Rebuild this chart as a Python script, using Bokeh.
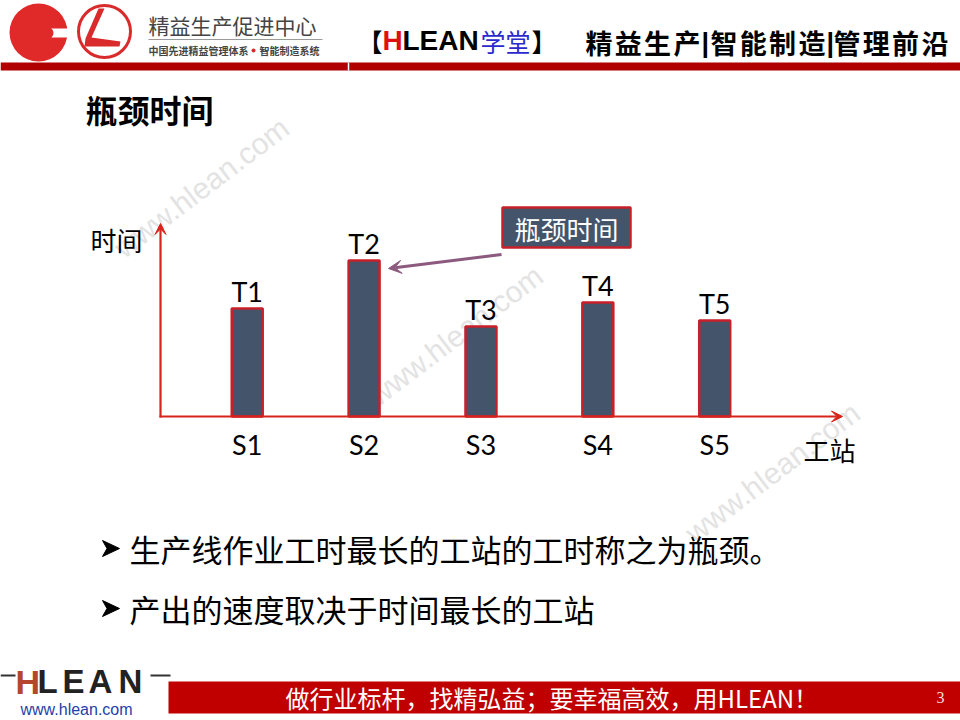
from bokeh.plotting import figure
from bokeh.models import Range1d, Arrow, VeeHead, ColumnDataSource
from bokeh.core.properties import value
from bokeh.embed import file_html
from bokeh.resources import INLINE

# ---- data ----
stations = ["S1", "S2", "S3", "S4", "S5"]
time_labels = ["T1", "T2", "T3", "T4", "T5"]
times = [3.6, 5.2, 3.0, 3.8, 3.2]
station_pos = [1, 2, 3, 4, 5]

title_text = "瓶颈时间"
y_label = "时间"
x_label = "工站"
callout_text = "瓶颈时间"
bullets = ["生产线作业工时最长的工站的工时称之为瓶颈。", "产出的速度取决于时间最长的工站"]
slogan = "做行业标杆，找精弘益；要幸福高效，用HLEAN！"

CJK = "Noto Sans CJK SC"
RED = "#D8231B"
BAR = "#44546A"

src = ColumnDataSource(dict(pos=station_pos, time=times, tl=time_labels, st=stations))

p = figure(width=960, height=720, x_range=Range1d(0, 960), y_range=Range1d(720, 0),
           output_backend="svg", toolbar_location=None, min_border=0,
           x_axis_location=None, y_axis_location=None,
           background_fill_color="white", border_fill_color="white")
p.outline_line_color = None
p.grid.visible = False
p.extra_x_ranges = {"st": Range1d(-1.111, 7.103)}
p.extra_y_ranges = {"t": Range1d(-(720 - 416) / 30.0, 416 / 30.0)}

# ---- watermarks ----
for (wx, wy) in [(201, 187), (455, 335), (772, 472)]:
    p.text(x=[wx], y=[wy], text=["www.hlean.com"], angle=0.65, text_align="center",
           text_baseline="middle", text_font=value("Liberation Sans"), text_font_size="30px",
           text_color="#E3E3E3")

# ---- header ----
p.circle(x=[38], y=[32], radius=29, fill_color="#E02A2A", line_color=None)
p.quad(left=[46], right=[68], top=[28], bottom=[37], fill_color="white", line_color=None)
p.circle(x=[47], y=[32.5], radius=6, fill_color="#E02A2A", line_color=None)
p.circle(x=[104], y=[31], radius=26, fill_color=None, line_color="#D92B2B", line_width=3)
p.patch(x=[98, 104, 91, 120, 119, 84, 85], y=[8, 8, 37, 41, 46, 46, 38],
        fill_color="#D92B2B", line_color=None)

p.text(x=[148], y=[24], text=["精益生产促进中心"], text_font=value(CJK), text_font_size="21px",
       text_color="#444444", text_baseline="middle")
p.line(x=[148, 322], y=[39, 39], line_color="#9A9A9A", line_width=1)
p.text(x=[148], y=[50], text=["中国先进精益管理体系"], text_font=value(CJK), text_font_size="10px",
       text_font_style="bold", text_color="#444444", text_baseline="middle")
p.circle(x=[253], y=[50], radius=2, fill_color="#D92B2B", line_color=None)
p.text(x=[259], y=[50], text=["智能制造系统"], text_font=value(CJK), text_font_size="10px",
       text_font_style="bold", text_color="#444444", text_baseline="middle")

p.text(x=[357], y=[40], text=["【"], text_font=value(CJK), text_font_size="25px",
       text_font_style="bold", text_color="black", text_baseline="middle")
p.text(x=[382], y=[40], text=["H"], text_font=value("Liberation Sans"), text_font_size="28px",
       text_font_style="bold", text_color="#E01010", text_baseline="middle")
p.text(x=[402], y=[40], text=["LEAN"], text_font=value("Liberation Sans"), text_font_size="28px",
       text_font_style="bold", text_color="black", text_baseline="middle")
p.text(x=[480], y=[40], text=["学堂"], text_font=value(CJK), text_font_size="25px",
       text_color="#2A2ACF", text_baseline="middle")
p.text(x=[531], y=[40], text=["】"], text_font=value(CJK), text_font_size="25px",
       text_font_style="bold", text_color="black", text_baseline="middle")

groups = [("精益生产", 585), ("|", 701), ("智能制造", 710), ("|", 826), ("管理前沿", 833)]
for g, gx in groups:
    if g == "|":
        p.text(x=[gx], y=[42], text=[g], text_font=value("Liberation Sans"), text_font_size="27px",
               text_font_style="bold", text_color="black", text_baseline="middle")
    else:
        for i, ch in enumerate(g):
            p.text(x=[gx + i * 29.3], y=[42], text=[ch], text_font=value(CJK), text_font_size="27px",
                   text_font_style="bold", text_color="black", text_baseline="middle")

p.quad(left=[0], right=[960], top=[62], bottom=[70], fill_color="#B00000", line_color=None)
p.line(x=[348, 348], y=[62, 70], line_color="white", line_width=1.5)

# ---- title ----
p.text(x=[85], y=[108], text=[title_text], text_font=value(CJK), text_font_size="32px",
       text_font_style="bold", text_color="black", text_baseline="middle")

# ---- chart ----
p.add_layout(Arrow(end=VeeHead(size=11, fill_color=RED, line_color=RED),
                   x_start=160, y_start=417, x_end=160, y_end=223,
                   line_color=RED, line_width=2.2))
p.add_layout(Arrow(end=VeeHead(size=11, fill_color=RED, line_color=RED),
                   x_start=159, y_start=416, x_end=842, y_end=416,
                   line_color=RED, line_width=2.2))

p.vbar(x="pos", top="time", bottom=0, width=0.265, source=src,
       x_range_name="st", y_range_name="t",
       fill_color=BAR, line_color="#C8202A", line_width=2.5)
p.text(x="pos", y="time", text="tl", source=src, x_range_name="st", y_range_name="t",
       text_align="center", text_baseline="alphabetic", y_offset=-17,
       text_font=value("Lato"), text_font_size="27px", text_color="black")
p.text(x="pos", y=444, text="st", source=src, x_range_name="st",
       text_align="center", text_baseline="middle",
       text_font=value("Lato"), text_font_size="27px", text_color="black")

p.text(x=[90], y=[239], text=[y_label], text_font=value(CJK), text_font_size="26px",
       text_color="black", text_baseline="middle")
p.text(x=[803], y=[449], text=[x_label], text_font=value(CJK), text_font_size="26px",
       text_color="black", text_baseline="middle")

# callout
p.quad(left=[502], right=[630], top=[207], bottom=[247], fill_color=BAR,
       line_color="#C8202A", line_width=2.5)
p.text(x=[566], y=[228], text=[callout_text], text_font=value(CJK), text_font_size="26px",
       text_color="white", text_align="center", text_baseline="middle")
p.add_layout(Arrow(end=VeeHead(size=13, fill_color="#8C5A7F", line_color="#8C5A7F"),
                   x_start=501, y_start=254, x_end=388, y_end=268,
                   line_color="#8C5A7F", line_width=3))

# ---- bullets ----
for i, b in enumerate(bullets):
    by = 548 + i * 60
    p.patch(x=[102, 119, 102, 106.5], y=[by - 8, by, by + 8, by],
            fill_color="black", line_color="black", line_width=1)
    p.text(x=[129], y=[by], text=[b], text_font=value(CJK), text_font_size="31px",
           text_color="black", text_baseline="middle")

# ---- footer ----
p.line(x=[0, 15], y=[675, 675], line_color="#333333", line_width=2)
p.line(x=[150, 170], y=[675, 675], line_color="#333333", line_width=2)
p.text(x=[15], y=[681], text=["H"], text_font=value("Liberation Sans"), text_font_size="34px",
       text_font_style="bold", text_color="#B5452F", text_baseline="middle")
for ch, cx in zip("LEAN", [37, 62, 88, 118]):
    p.text(x=[cx], y=[681], text=[ch], text_font=value("Liberation Sans"),
           text_font_size="33px", text_font_style="bold", text_color="#222222",
           text_baseline="middle")
p.text(x=[20], y=[709], text=["www.hlean.com"], text_font=value("Liberation Sans"),
       text_font_size="16px", text_color="#1F3FA8", text_baseline="middle")
p.quad(left=[168], right=[960], top=[681], bottom=[713], fill_color="#C00000", line_color=None)
p.text(x=[285], y=[697], text=[slogan], text_font=value(CJK), text_font_size="24px",
       text_color="white", text_baseline="middle")
p.text(x=[936], y=[697], text=["3"], text_font=value("Liberation Sans Narrow"),
       text_font_size="16px", text_color="#F2DCDC", text_baseline="middle")

open("out.html", "w").write(file_html(p, INLINE))
